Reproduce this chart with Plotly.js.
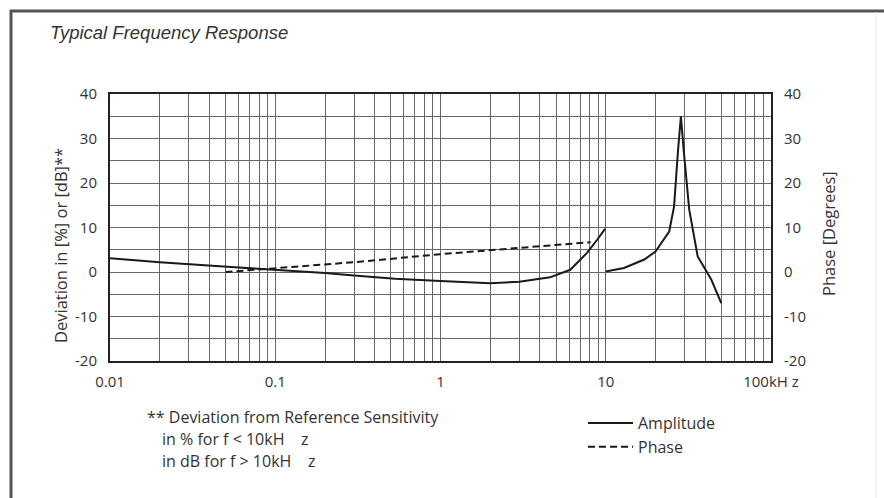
<!DOCTYPE html>
<html>
<head>
<meta charset="utf-8">
<script src="https://cdn.plot.ly/plotly-3.0.1.min.js"></script>
<style>html,body{margin:0;padding:0;background:#fff;}#chart{width:884px;height:498px;}</style>
</head>
<body>
<div id="chart"></div>
<script>
// Amplitude (solid) – two segments, gap at 10 kHz
const ampFreqLow = [0.01, 0.02, 0.06, 0.1, 0.2, 0.3, 0.53, 1.0, 2.0, 3.0, 4.6, 6.1, 7.7, 8.9, 9.9];
const ampValLow  = [3.1, 2.2, 1.0, 0.5, -0.2, -0.8, -1.5, -2.0, -2.5, -2.2, -1.2, 0.5, 4.3, 7.3, 9.7];
const ampFreqHigh = [10, 12.9, 17.1, 20, 24.2, 25.9, 27.4, 28.5, 29.6, 32, 36, 43.5, 50];
const ampValHigh  = [0.1, 0.9, 2.8, 4.6, 9.1, 14.7, 27.5, 35, 27.5, 14, 3.5, -1.7, -7];
// Phase (dashed)
const phaseFreq = [0.05, 0.1, 0.3, 1, 3, 8.1];
const phaseVal  = [0.0, 0.8, 2.2, 4.0, 5.5, 6.7];
// Axis ticks
const xTickVals = [0.01, 0.1, 1, 10, 100];
const xTickText = ['0.01', '0.1', '1', '10', '100kH z'];
const yTickVals = [-20, -10, 0, 10, 20, 30, 40];
const yTickText = ['-20', '-10', '0', '10', '20', '30', '40'];

const minorX = [];
for (let d = -2; d < 2; d++) for (let m = 2; m <= 9; m++) minorX.push(m * Math.pow(10, d));

const FONT = 'Open Sans, Noto Sans, sans-serif';
const TXT = '#333';

const traces = [
  {
    x: ampFreqLow.concat([null], ampFreqHigh),
    y: ampValLow.concat([null], ampValHigh),
    name: 'Amplitude', type: 'scatter', mode: 'lines', connectgaps: false,
    line: {color: '#1a1a1a', width: 2}
  },
  {
    x: phaseFreq, y: phaseVal, yaxis: 'y2',
    name: 'Phase', type: 'scatter', mode: 'lines',
    line: {color: '#1a1a1a', width: 2, dash: '7px,4px'}
  }
];

const P = (px) => (px - 110) / 661;
const Q = (py) => (361 - py) / 267;

const layout = {
  width: 884, height: 498,
  margin: {l: 110, r: 113, t: 94, b: 137},
  paper_bgcolor: '#fff', plot_bgcolor: '#fff',
  font: {family: FONT, size: 14, color: TXT},
  title: {
    text: 'Typical Frequency Response',
    xref: 'container', yref: 'container',
    x: 50 / 884, xanchor: 'left', y: 1 - 33 / 498, yanchor: 'middle',
    font: {family: 'Liberation Sans, Arial, sans-serif', size: 18.5, style: 'italic', color: '#333'}
  },
  showlegend: true,
  legend: {
    x: P(583), xanchor: 'left', y: Q(406), yanchor: 'top',
    font: {family: FONT, size: 16, color: TXT},
    bgcolor: 'rgba(0,0,0,0)', tracegroupgap: 0, itemwidth: 45
  },
  xaxis: {
    type: 'log', range: [-2, 2],
    tickmode: 'array', tickvals: xTickVals, ticktext: xTickText,
    showgrid: true, gridcolor: '#666', gridwidth: 1,
    minor: {tickmode: 'array', tickvals: minorX, showgrid: true, gridcolor: '#666', gridwidth: 1, ticks: ''},
    showline: true, linecolor: '#222', linewidth: 2, mirror: true,
    ticks: '', ticklabelstandoff: 6,
    tickfont: {family: FONT, size: 15, color: TXT},
    zeroline: false, fixedrange: true
  },
  yaxis: {
    range: [-20, 40], tickmode: 'array', tickvals: yTickVals, ticktext: yTickText,
    showgrid: true, gridcolor: '#666', gridwidth: 1,
    minor: {dtick: 5, showgrid: true, gridcolor: '#666', gridwidth: 1, ticks: ''},
    showline: true, linecolor: '#222', linewidth: 2, mirror: true,
    ticks: '', ticklabelstandoff: 8,
    tickfont: {family: FONT, size: 15, color: TXT},
    zeroline: false, fixedrange: true
  },
  yaxis2: {
    range: [-20, 40], tickmode: 'array', tickvals: yTickVals, ticktext: yTickText,
    overlaying: 'y', side: 'right', showgrid: false,
    ticks: '', ticklabelstandoff: 12,
    tickfont: {family: FONT, size: 15, color: TXT},
    zeroline: false, fixedrange: true
  },
  annotations: [
    {text: 'Deviation in [%] or [dB]**', textangle: -90, xref: 'paper', yref: 'paper',
     x: P(60), y: Q(246), xanchor: 'center', yanchor: 'middle', showarrow: false,
     font: {family: FONT, size: 16.5, color: TXT}},
    {text: 'Phase [Degrees]', textangle: -90, xref: 'paper', yref: 'paper',
     x: P(828), y: Q(234), xanchor: 'center', yanchor: 'middle', showarrow: false,
     font: {family: FONT, size: 16.5, color: TXT}},
    {text: '** Deviation from Reference Sensitivity', xref: 'paper', yref: 'paper',
     x: P(145), y: Q(417), xanchor: 'left', yanchor: 'middle', showarrow: false,
     font: {family: FONT, size: 16, color: TXT}},
    {text: 'in % for f &lt; 10kH\u00a0\u00a0\u00a0\u00a0z', xref: 'paper', yref: 'paper',
     x: P(160), y: Q(439), xanchor: 'left', yanchor: 'middle', showarrow: false,
     font: {family: FONT, size: 16, color: TXT}},
    {text: 'in dB for f &gt; 10kH\u00a0\u00a0\u00a0\u00a0z', xref: 'paper', yref: 'paper',
     x: P(160), y: Q(461), xanchor: 'left', yanchor: 'middle', showarrow: false,
     font: {family: FONT, size: 16, color: TXT}}
  ],
  shapes: [
    {type: 'line', xref: 'paper', yref: 'paper', x0: P(11), x1: P(11), y0: Q(10), y1: Q(500),
     line: {color: '#555', width: 3}},
    {type: 'line', xref: 'paper', yref: 'paper', x0: P(10), x1: P(886), y0: Q(11), y1: Q(11),
     line: {color: '#555', width: 3}},
    {type: 'line', xref: 'paper', yref: 'paper', x0: P(876), x1: P(876), y0: Q(12), y1: Q(500),
     line: {color: '#e6e6e6', width: 1}}
  ]
};

Plotly.newPlot('chart', traces, layout, {staticPlot: true, displayModeBar: false});
</script>
</body>
</html>
